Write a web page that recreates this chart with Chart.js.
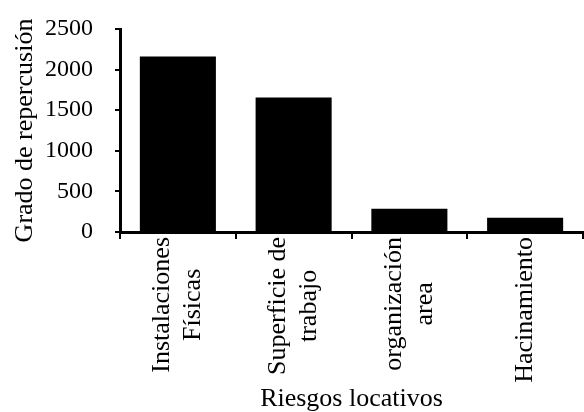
<!DOCTYPE html>
<html>
<head>
<meta charset="utf-8">
<script src="https://cdn.jsdelivr.net/npm/chart.js@4"></script>
<style>
  html, body { margin: 0; padding: 0; background: #fff; }
  #chart { display: block; }
</style>
</head>
<body>
<canvas id="chart" width="584" height="412"></canvas>
<script>
const categories = [
  ["Instalaciones", "Físicas"],
  ["Superficie de", "trabajo"],
  ["organización", "area"],
  ["Hacinamiento"]
];
const values = [2160, 1655, 285, 175];
const yTicks = [0, 500, 1000, 1500, 2000, 2500];

const FONT = "'Liberation Serif', 'DejaVu Serif', serif";
const FSIZE = 26;   // titles and category labels
const TSIZE = 24;   // y tick numbers

// draws the rotated category labels, lines centred on each other
const centredLabels = {
  id: "centredLabels",
  afterDraw(chart) {
    const ctx = chart.ctx;
    const xs = chart.scales.x;
    const lineH = 31;
    ctx.save();
    ctx.font = FSIZE + "px " + FONT;
    ctx.fillStyle = "#000";
    ctx.textAlign = "center";
    ctx.textBaseline = "middle";
    categories.forEach((lines, i) => {
      const x = xs.getPixelForTick(i);
      const maxW = Math.max(...lines.map(l => ctx.measureText(l).width));
      ctx.save();
      ctx.translate(x, xs.top + 5);
      ctx.rotate(-Math.PI / 2);
      lines.forEach((l, j) => {
        const off = (j - (lines.length - 1) / 2) * lineH;
        ctx.fillText(l, -maxW / 2, off);
      });
      ctx.restore();
    });
    ctx.restore();
  }
};

new Chart(document.getElementById("chart"), {
  type: "bar",
  data: {
    labels: categories,
    datasets: [{
      data: values,
      backgroundColor: "#000",
      barPercentage: 1,
      categoryPercentage: 0.657
    }]
  },
  options: {
    responsive: false,
    animation: false,
    layout: { padding: { top: 29, right: 1, left: 10, bottom: 0 } },
    plugins: { legend: { display: false }, tooltip: { enabled: false } },
    scales: {
      x: {
        afterFit(s) { s.height = 180; s.paddingLeft = 0; s.paddingRight = 0; },
        border: { color: "#000", width: 3 },
        grid: { drawOnChartArea: false, color: "#000", lineWidth: 2, tickLength: 7 },
        ticks: {
          color: "rgba(0,0,0,0)",
          maxRotation: 90, minRotation: 90,
          font: { family: FONT, size: FSIZE }
        },
        title: {
          display: true, text: "Riesgos locativos", color: "#000",
          font: { family: FONT, size: FSIZE }, padding: { top: 0, bottom: -3 }
        }
      },
      y: {
        min: 0, max: 2500,
        afterFit(s) { s.width = 110; s.paddingTop = 0; s.paddingBottom = 0; },
        afterBuildTicks(scale) { scale.ticks = yTicks.map(v => ({ value: v })); },
        border: { color: "#000", width: 3 },
        grid: { drawOnChartArea: false, color: "#000", lineWidth: 2, tickLength: 5 },
        ticks: {
          color: "#000", padding: 22,
          font: { family: FONT, size: TSIZE },
          callback: v => String(v)
        },
        title: {
          display: true, text: "Grado de repercusión", color: "#000",
          font: { family: FONT, size: FSIZE }, padding: { top: 0, bottom: 0 }
        }
      }
    }
  },
  plugins: [centredLabels]
});
</script>
</body>
</html>
